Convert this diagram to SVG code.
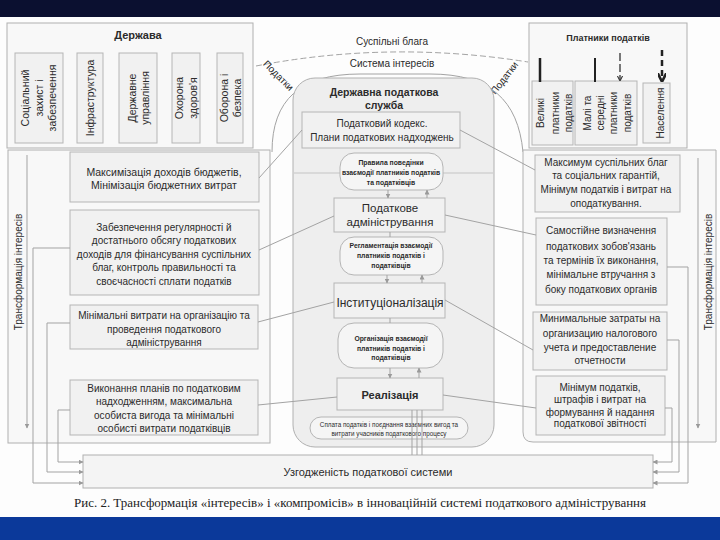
<svg xmlns="http://www.w3.org/2000/svg" width="720" height="540" viewBox="0 0 720 540">
<style>
text{font-family:"Liberation Sans","DejaVu Sans",sans-serif;fill:#2b2b2b}
text.cap{font-family:"Liberation Serif","DejaVu Serif",serif;fill:#222}
.panel{fill:#f8f8f8;stroke:#b0b0b0;stroke-width:1}
.box{fill:#f1f1f1;stroke:#b5b5b5;stroke-width:1}
.rnd{fill:#f5f5f5;stroke:#b5b5b5;stroke-width:1}
.c{text-anchor:middle}
.f10{font-size:10px}
.f105{font-size:10.5px}
.f11{font-size:11px}
.f7{font-size:6.8px;font-weight:bold}
.conn{fill:none;stroke:#a3a3a3;stroke-width:1}
.arr{marker-end:url(#ah)}
</style>
<defs>
<marker id="ah" viewBox="0 0 10 10" refX="9" refY="5" markerWidth="5" markerHeight="5" orient="auto-start-reverse"><path d="M0,0 L10,5 L0,10 z" fill="#9a9a9a"/></marker>
<marker id="ahd" viewBox="0 0 10 10" refX="8" refY="5" markerWidth="4" markerHeight="4" orient="auto"><path d="M0,0 L10,5 L0,10" fill="none" stroke="#333" stroke-width="2"/></marker>
<marker id="ahb" viewBox="0 0 10 10" refX="8" refY="5" markerWidth="3.5" markerHeight="3.5" orient="auto"><path d="M0,0 L10,5 L0,10" fill="none" stroke="#222" stroke-width="3"/></marker>
</defs>
<rect width="720" height="540" fill="#fdfdfd"/>
<rect x="0" y="0" width="720" height="17" fill="#0b1030"/>
<rect x="0" y="517" width="720" height="23" fill="#0b399a"/>

<!-- background outlines -->
<g id="arcs">
<path class="conn" d="M256 66 Q390 40 528 62" stroke-dasharray="6 3"/>
<path class="conn" d="M272 152 C272 100 300 74 360 74 L430 74 C490 74 518 100 523 152"/>
<text class="c f10" x="392" y="45">Суспільні блага</text>
<text class="c f10" x="392" y="67">Система інтересів</text>
<text class="c f10" transform="translate(276,78) rotate(45)">Податки</text>
<text class="c f10" transform="translate(507,80) rotate(-52)">Податки</text>
</g>

<!-- Держава -->
<g id="derzhava">
<rect class="panel" x="7" y="23" width="246" height="125"/>
<text class="c f11" x="138" y="39" font-weight="bold">Держава</text>
<rect class="box" x="15" y="53" width="48" height="90"/>
<rect class="box" x="77" y="53" width="26" height="90"/>
<rect class="box" x="119" y="53" width="38" height="90"/>
<rect class="box" x="172" y="53" width="28" height="90"/>
<rect class="box" x="217" y="53" width="26" height="90"/>
<text class="c f105" transform="translate(28.5,98) rotate(-90)">Соціальний</text>
<text class="c f105" transform="translate(42.5,98) rotate(-90)">захист і</text>
<text class="c f105" transform="translate(55.5,98) rotate(-90)">забезпечення</text>
<text class="c f105" transform="translate(93.5,98) rotate(-90)">Інфраструктура</text>
<text class="c f105" transform="translate(135.5,98) rotate(-90)">Державне</text>
<text class="c f105" transform="translate(148.5,98) rotate(-90)">управління</text>
<text class="c f105" transform="translate(182.5,98) rotate(-90)">Охорона</text>
<text class="c f105" transform="translate(196.5,98) rotate(-90)">здоров'я</text>
<text class="c f105" transform="translate(227.5,98) rotate(-90)">Оборона і</text>
<text class="c f105" transform="translate(240.5,98) rotate(-90)">безпека</text>
</g>

<!-- Платники податків -->
<g id="platnyky">
<rect class="panel" x="529" y="23" width="158" height="125"/>
<text class="c" x="608" y="41" font-size="9" font-weight="bold">Платники податків</text>
<rect class="box" x="532" y="81" width="41" height="64"/>
<rect class="box" x="575" y="81" width="62" height="64"/>
<rect class="box" x="643" y="83" width="27" height="60"/>
<text class="c f10" transform="translate(543.5,113) rotate(-90)">Великі</text>
<text class="c f10" transform="translate(558.5,113) rotate(-90)">платники</text>
<text class="c f10" transform="translate(571.5,113) rotate(-90)">податків</text>
<text class="c f10" transform="translate(590.5,113) rotate(-90)">Малі та</text>
<text class="c f10" transform="translate(603.5,113) rotate(-90)">середні</text>
<text class="c f10" transform="translate(616.5,113) rotate(-90)">платники</text>
<text class="c f10" transform="translate(630.5,113) rotate(-90)">податків</text>
<text class="c f10" transform="translate(663.5,113) rotate(-90)">Населення</text>
<line x1="540" y1="58" x2="540" y2="82" stroke="#222" stroke-width="2.5"/>
<line x1="595" y1="58" x2="595" y2="82" stroke="#222" stroke-width="2"/>
<line x1="620" y1="53" x2="620" y2="80" stroke="#333" stroke-width="1.3" stroke-dasharray="8 3" marker-end="url(#ahd)"/>
<line x1="662" y1="50" x2="662" y2="80" stroke="#222" stroke-width="2.5" stroke-dasharray="6 4" marker-end="url(#ahb)"/>
</g>

<!-- side panels -->
<g id="left-panel">
<rect class="panel" x="8" y="150" width="262" height="293"/>
<line x1="27" y1="155" x2="27" y2="428" class="conn arr"/>
<text class="c f10" transform="translate(21.5,272) rotate(-90)">Трансформація інтересів</text>
</g>
<g id="right-panel">
<path class="panel" d="M523 150 L716 150 L716 442 L533 442 Q523 442 523 432 Z"/>
<line x1="698" y1="158" x2="698" y2="428" class="conn arr"/>
<text class="c f10" transform="translate(711.5,272) rotate(-90)">Трансформація інтересів</text>
</g>

<!-- central panel -->
<g id="dps">
<rect x="293" y="78" width="201" height="369" rx="22" fill="#eeeeee" stroke="#b0b0b0"/>
<line x1="294" y1="173" x2="493" y2="173" stroke="#c4c4c4"/>
<text class="c" x="384" y="95.5" font-size="10.5" font-weight="bold">Державна податкова</text>
<text class="c" x="384" y="109" font-size="10.5" font-weight="bold">служба</text>
</g>

<g id="kodeks">
<rect class="box" x="302" y="112" width="158" height="36"/>
<text class="c f10" x="382" y="127">Податковий кодекс.</text>
<text class="c f10" x="382" y="141">Плани податкових надходжень</text>
</g>
<g id="pravyla">
<rect class="rnd" x="340" y="153" width="103" height="37" rx="14"/>
<text class="c f7" x="391" y="164.5">Правила поведінки</text>
<text class="c f7" x="391" y="174.5">взаємодії платників податків</text>
<text class="c f7" x="391" y="184.5">та податківців</text>
</g>
<g id="administruvannia">
<rect class="box" x="334" y="198" width="111" height="34"/>
<text class="c" x="390" y="212" font-size="11.5">Податкове</text>
<text class="c" x="390" y="226" font-size="11.5">адміністрування</text>
</g>
<g id="reglamentatsiia">
<rect class="rnd" x="340" y="237" width="103" height="38" rx="14"/>
<text class="c f7" x="391" y="247.5">Регламентація взаємодії</text>
<text class="c f7" x="391" y="257.5">платників податків і</text>
<text class="c f7" x="391" y="267.5">податківців</text>
</g>
<g id="instytutsionalizatsiia">
<rect class="box" x="334" y="283" width="111" height="35"/>
<text class="c" x="390" y="307" font-size="12">Інституціоналізація</text>
</g>
<g id="orhanizatsiia">
<rect class="rnd" x="338" y="323" width="105" height="45" rx="16"/>
<text class="c f7" x="391" y="340.5">Організація взаємодії</text>
<text class="c f7" x="391" y="350.5">платників податків і</text>
<text class="c f7" x="391" y="360">податківців</text>
</g>
<g id="realizatsiia">
<rect class="box" x="337" y="378" width="106" height="32"/>
<text class="c f11" x="390" y="398.5" font-weight="bold">Реалізація</text>
</g>
<g id="splata">
<rect class="rnd" x="310" y="417" width="158" height="22" rx="11"/>
<text class="c" x="389" y="427" font-size="6.3">Сплата податків і поєднання взаємних вигод та</text>
<text class="c" x="389" y="435.5" font-size="6.3">витрати учасників податкового процесу</text>
</g>

<!-- left column -->
<g id="l1">
<rect class="box" x="70" y="152" width="189" height="50"/>
<text class="c f105" x="164" y="176">Максимізація доходів бюджетів,</text>
<text class="c f105" x="164" y="189">Мінімізація бюджетних витрат</text>
</g>
<g id="l2">
<rect class="box" x="70" y="210" width="189" height="85"/>
<text class="c f10" x="164" y="230.5">Забезпечення регулярності й</text>
<text class="c f10" x="164" y="244">достатнього обсягу податкових</text>
<text class="c f10" x="164" y="257.5">доходів для фінансування суспільних</text>
<text class="c f10" x="164" y="271">благ, контроль правильності та</text>
<text class="c f10" x="164" y="284.5">своєчасності сплати податків</text>
</g>
<g id="l3">
<rect class="box" x="70" y="305" width="188" height="44"/>
<text class="c f10" x="164" y="318.5">Мінімальні витрати на організацію та</text>
<text class="c f10" x="164" y="332.5">проведення податкового</text>
<text class="c f10" x="164" y="346">адміністрування</text>
</g>
<g id="l4">
<rect class="box" x="70" y="380" width="188" height="55"/>
<text class="c f10" x="164" y="391.5">Виконання планів по податковим</text>
<text class="c f10" x="164" y="405">надходженням, максимальна</text>
<text class="c f10" x="164" y="418.5">особиста вигода та мінімальні</text>
<text class="c f10" x="164" y="432">особисті витрати податківців</text>
</g>

<!-- right column -->
<g id="r1">
<rect class="box" x="535" y="155" width="145" height="57"/>
<text class="c f10" x="606" y="165.5">Максимум суспільних благ</text>
<text class="c f10" x="606" y="178.5">та соціальних гарантій,</text>
<text class="c f10" x="606" y="193">Мінімум податків і витрат на</text>
<text class="c f10" x="606" y="206.5">оподаткування.</text>
</g>
<g id="r2">
<rect class="box" x="536" y="218" width="131" height="87"/>
<text class="c f10" x="601" y="233.5">Самостійне визначення</text>
<text class="c f10" x="601" y="250">податкових зобов'язань</text>
<text class="c f10" x="601" y="263.5">та термінів їх виконання,</text>
<text class="c f10" x="601" y="278">мінімальне втручання з</text>
<text class="c f10" x="601" y="293">боку податкових органів</text>
</g>
<g id="r3">
<rect class="box" x="533" y="312" width="134" height="58"/>
<text class="c f10" x="600" y="321.5">Минимальные затраты на</text>
<text class="c f10" x="600" y="336.5">организацию налогового</text>
<text class="c f10" x="600" y="350.5">учета и предоставление</text>
<text class="c f10" x="600" y="364">отчетности</text>
</g>
<g id="r4">
<rect class="box" x="536" y="376" width="129" height="59"/>
<text class="c f10" x="600" y="390.5">Мінімум податків,</text>
<text class="c f10" x="600" y="402.5">штрафів і витрат на</text>
<text class="c f10" x="600" y="415.5">формування й надання</text>
<text class="c f10" x="600" y="426.5">податкової звітності</text>
</g>

<!-- bottom -->
<g id="uzhodzhenist">
<rect x="83" y="455" width="570" height="33" fill="#f4f4f4" stroke="#b0b0b0"/>
<text class="c f11" x="368" y="476">Узгодженість податкової системи</text>
</g>

<g id="connectors">
<line class="conn" x1="259" y1="178" x2="302" y2="130"/>
<line class="conn" x1="259" y1="250" x2="334" y2="216"/>
<line class="conn" x1="258" y1="322" x2="334" y2="302"/>
<line class="conn" x1="258" y1="405" x2="337" y2="397"/>
<line class="conn" x1="460" y1="130" x2="535" y2="170"/>
<line class="conn" x1="445" y1="215" x2="536" y2="235"/>
<line class="conn" x1="445" y1="300" x2="533" y2="350"/>
<line class="conn" x1="443" y1="395" x2="536" y2="408"/>
<polyline class="conn arr" points="70,248 33,248 33,483 83,483"/>
<polyline class="conn arr" points="70,323 47,323 47,472 83,472"/>
<polyline class="conn arr" points="70,410 58,410 58,462 83,462"/>
<polyline class="conn arr" points="667,267 688,267 688,483 653,483"/>
<polyline class="conn arr" points="667,340 679,340 679,472 653,472"/>
<polyline class="conn arr" points="665,408 672,408 672,462 653,462"/>
<line class="conn arr" x1="388" y1="190" x2="388" y2="198"/>
<line class="conn arr" x1="427" y1="198" x2="427" y2="190"/>
<line class="conn" x1="390" y1="232" x2="390" y2="237"/>
<line class="conn arr" x1="387" y1="275" x2="387" y2="283"/>
<line class="conn arr" x1="422" y1="283" x2="422" y2="275"/>
<line class="conn" x1="390" y1="318" x2="390" y2="323"/>
<line class="conn arr" x1="390" y1="368" x2="390" y2="378"/>
<line class="conn arr" x1="419" y1="378" x2="419" y2="368"/>
<line class="conn" x1="412" y1="410" x2="412" y2="455"/>
<line class="conn" x1="417" y1="410" x2="417" y2="455"/>
<line class="conn" x1="422" y1="410" x2="422" y2="455"/>
</g>

<text class="cap" x="360" y="507" font-size="12.5" text-anchor="middle" textLength="572" lengthAdjust="spacingAndGlyphs">Рис. 2. Трансформація «інтересів» і «компромісів» в інноваційній системі податкового адміністрування</text>
</svg>
